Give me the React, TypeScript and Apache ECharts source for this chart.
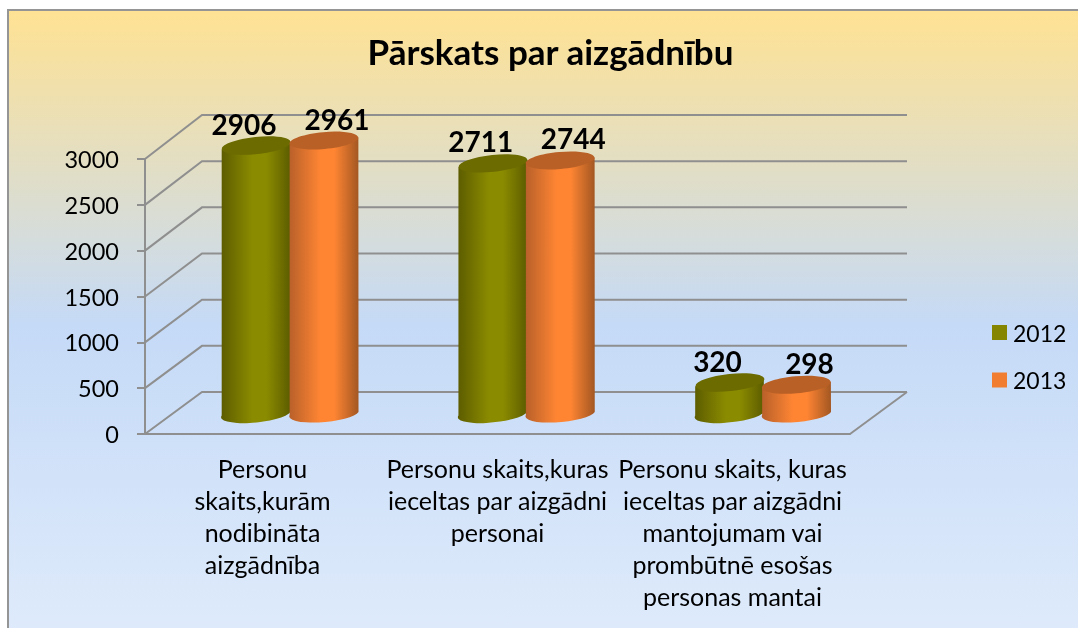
import React, { useEffect, useRef } from "react";
import * as echarts from "echarts";

const chartTitle = "Pārskats par aizgādnību";
const categories = [
  "Personu\nskaits,kurām\nnodibināta\naizgādnība",
  "Personu skaits,kuras\nieceltas par aizgādni\npersonai",
  "Personu skaits, kuras\nieceltas par aizgādni\nmantojumam vai\nprombūtnē esošas\npersonas mantai",
];
const values2012 = [2906, 2711, 320];
const values2013 = [2961, 2744, 298];
const yTicks = [0, 500, 1000, 1500, 2000, 2500, 3000];
const FONT = "Lato";

const grad = (stops: [number, string][]) => ({
  type: "linear", x: 0, y: 0, x2: 1, y2: 0,
  colorStops: stops.map(([offset, color]) => ({ offset, color })),
});

function cylinder(dx0: number, dxStep: number, body: any, cap: string, labelDx: number, tilt: number) {
  return (params: any, api: any) => {
    const cat = api.value(0);
    const val = api.value(1);
    const top = api.coord([cat, val]);
    const base = api.coord([cat, 0]);
    const depth = -22;
    const cx = top[0] + dx0 + dxStep * cat;
    const yt = top[1] + depth;
    const yb = base[1] + depth;
    const rx = 34.5;
    const ry = 8.5;
    const t = (tilt * Math.PI) / 180;
    const ex = rx * Math.cos(t);
    const ey = rx * Math.sin(t);
    const d = `M${cx - ex} ${yt + ey}L${cx - ex} ${yb + ey}A${rx} ${ry} ${-tilt} 0 0 ${cx + ex} ${yb - ey}L${cx + ex} ${yt - ey}Z`;
    return {
      type: "group",
      children: [
        { type: "path", shape: { pathData: d }, style: { fill: body } },
        { type: "ellipse", originX: cx, originY: yt, rotation: t,
          shape: { cx, cy: yt, rx, ry }, style: { fill: cap } },
        { type: "text", z2: 50,
          style: { text: String(val), x: cx + labelDx, y: yt - 22, align: "center", verticalAlign: "middle",
            font: `bold 28px ${FONT}`, fill: "#000" } },
      ],
    };
  };
}

const wall = (params: any, api: any) => {
  const v = api.value(1);
  const y = api.coord([0, v])[1];
  const sys = params.coordSys;
  const backY = y - 42 - (v / 3000) * 2;
  return {
    type: "polyline",
    shape: { points: [[sys.x, y], [sys.x + 57, backY], [sys.x + sys.width + 57, backY]] },
    style: { fill: "none", stroke: "#8f8f8f", lineWidth: 2 },
  };
};

const floorEdge = (params: any, api: any) => {
  const y = api.coord([0, 0])[1];
  const sys = params.coordSys;
  return {
    type: "line",
    shape: { x1: sys.x + sys.width, y1: y, x2: sys.x + sys.width + 57, y2: y - 42 },
    style: { stroke: "#8f8f8f", lineWidth: 2 },
  };
};

export default function App() {
  const ref = useRef<HTMLDivElement>(null);
  useEffect(() => {
    const chart = echarts.init(ref.current!, undefined, { renderer: "svg" });
    chart.setOption({
      animation: false,
      title: {
        text: chartTitle, left: 545.5, top: 28, textAlign: "center",
        textStyle: { fontFamily: FONT, fontWeight: "bold", fontSize: 35, color: "#000" },
      },
      graphic: [{
        type: "rect", z: -10, silent: true,
        shape: { x: 8, y: 10, width: 1080, height: 630 },
        style: {
          stroke: "#959595", lineWidth: 2,
          fill: { type: "linear", x: 0, y: 0, x2: 0, y2: 1, colorStops: [
            { offset: 0, color: "#FFE293" },
            { offset: 0.5, color: "#C5DAF7" },
            { offset: 1, color: "#DFEBFB" },
          ] },
        },
      }],
      legend: {
        orient: "vertical", left: 987, top: 316, itemWidth: 15, itemHeight: 15, itemGap: 24.5,
        icon: "rect",
        data: ["2012", "2013"],
        textStyle: { fontFamily: FONT, fontSize: 23, color: "#000", padding: [0, 0, 0, 1] },
      },
      grid: { left: 145, top: 159, width: 705, height: 275, containLabel: false },
      xAxis: {
        type: "category", data: categories, boundaryGap: true,
        axisLine: { lineStyle: { color: "#8f8f8f", width: 2 } },
        axisTick: { length: 8, alignWithLabel: false, lineStyle: { color: "#8f8f8f", width: 2 } },
        splitLine: { show: false },
        axisLabel: { interval: 0, margin: 18, fontFamily: FONT, fontSize: 25, lineHeight: 32, color: "#000", align: "center" },
      },
      yAxis: {
        type: "value", min: 0, max: 3000, interval: 500,
        axisLine: { show: true, lineStyle: { color: "#8f8f8f", width: 2 } },
        axisTick: { show: true, length: 8, lineStyle: { color: "#8f8f8f", width: 2 } },
        splitLine: { show: false },
        axisLabel: { margin: 26, fontFamily: FONT, fontSize: 23.5, color: "#000", formatter: (v: number) => String(v) },
      },
      series: [
        { type: "custom", name: "walls", z: 1, silent: true, clip: false, renderItem: wall,
          data: yTicks.map((v) => [0, v]), encode: { x: 0, y: 1 } },
        { type: "custom", name: "floor", z: 1, silent: true, clip: false, renderItem: floorEdge,
          data: [[0, 0]], encode: { x: 0, y: 1 } },
        { type: "custom", name: "2012", z: 2, clip: false, itemStyle: { color: "#858500" },
          renderItem: cylinder(-6.5, 1.75,
            grad([[0, "#5c5c00"], [0.45, "#8b8b00"], [0.65, "#8b8b00"], [1, "#5c5c00"]]), "#6b6b00", -12, 6),
          data: values2012.map((v, i) => [i, v]), encode: { x: 0, y: 1 } },
        { type: "custom", name: "2013", z: 3, clip: false, itemStyle: { color: "#F17E30" },
          renderItem: cylinder(61.5, 1.25,
            grad([[0, "#b8602a"], [0.45, "#ff8533"], [0.65, "#ff8533"], [1, "#a35722"]]), "#b96026", 13, 5),
          data: values2013.map((v, i) => [i, v]), encode: { x: 0, y: 1 } },
      ],
    });
    return () => chart.dispose();
  }, []);
  return <div ref={ref} style={{ position: "fixed", left: 0, top: 0, width: 1078, height: 628 }} />;
}
